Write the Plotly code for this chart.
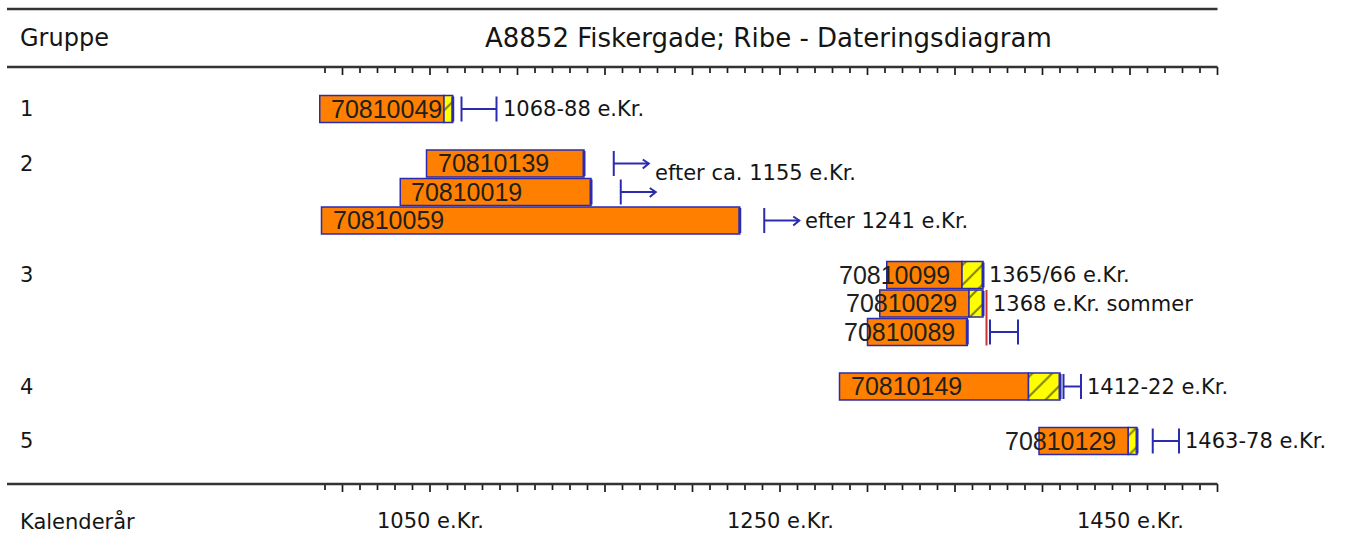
import plotly.graph_objects as go

# ---------------- data ----------------
title_text = "A8852 Fiskergade; Ribe - Dateringsdiagram"
group_header = "Gruppe"
axis_label = "Kalenderår"

sample_ids = ["70810049", "70810139", "70810019", "70810059",
              "70810099", "70810029", "70810089", "70810149", "70810129"]
sample_group = [1, 2, 2, 2, 3, 3, 3, 4, 5]
first_year = [987, 1048, 1033, 988, 1311, 1307, 1300, 1284, 1398]
sapwood_start = [1058, None, None, None, 1354, 1358, None, 1392, 1449]
last_year = [1063, 1138, 1142, 1227, 1366, 1366, 1357, 1410, 1454]

felling_kind = ["interval", "after", "after", "after", "none", "summer",
                "interval", "interval", "interval"]
felling_from = [1068, 1155, 1159, 1241, None, 1368, 1370, 1412, 1463]
felling_to = [1088, None, None, None, None, None, 1386, 1422, 1478]
felling_text = ["1068-88 e.Kr.", "efter ca. 1155 e.Kr.", "", "efter 1241 e.Kr.",
                "1365/66 e.Kr.", "1368 e.Kr. sommer", "", "1412-22 e.Kr.",
                "1463-78 e.Kr."]

tick_start, tick_end, tick_step, major_step = 990, 1500, 10, 50
tick_label_years = [1050, 1250, 1450]
tick_label_suffix = " e.Kr."

# ---------------- layout constants ----------------
W, H = 1348, 538
X_REF_YEAR, X_REF_PX, PX_PER_YEAR = 1050, 430.0, 1.75


def px2yr(px):
    return X_REF_YEAR + (px - X_REF_PX) / PX_PER_YEAR


def yr2px(yr):
    return X_REF_PX + (yr - X_REF_YEAR) * PX_PER_YEAR


def dyr(px):
    return px / PX_PER_YEAR


ROW_FIRST, ROW_PITCH, GROUP_STEP, BAR_H = 109.0, 28.5, 54.5, 27.0
ORANGE, BLUE, YELLOW, RED = "#ff8000", "#2b2bb0", "#ffff00", "#c83232"
RULE = "#333333"
TXT = "#151515"
HDR_FONT = "DejaVu Sans"
BAR_FONT = "Liberation Sans"

row_y = []
prev = None
y = ROW_FIRST
for g in sample_group:
    if prev is None:
        y = ROW_FIRST
    elif g == prev:
        y += ROW_PITCH
    else:
        y += GROUP_STEP
    row_y.append(y)
    prev = g

fig = go.Figure()

# heartwood bars
hw_end = [s if s is not None else e for s, e in zip(sapwood_start, last_year)]
fig.add_trace(go.Bar(
    orientation="h", y=row_y, base=first_year,
    x=[he - f for he, f in zip(hw_end, first_year)],
    width=BAR_H, marker=dict(color=ORANGE, line=dict(color=BLUE, width=1.5)),
    hoverinfo="skip", showlegend=False))

# sapwood bars (hatched)
sw_y, sw_base, sw_len = [], [], []
for yy, s, e in zip(row_y, sapwood_start, last_year):
    if s is not None:
        sw_y.append(yy); sw_base.append(s); sw_len.append(e - s)
fig.add_trace(go.Bar(
    orientation="h", y=sw_y, base=sw_base, x=sw_len, width=BAR_H,
    marker=dict(color=YELLOW, line=dict(color=BLUE, width=1.5),
                pattern=dict(shape="/", fgcolor="#000000", bgcolor=YELLOW,
                             size=14, solidity=0.14)),
    hoverinfo="skip", showlegend=False))

# thick end edge
ex, ey = [], []
for yy, e in zip(row_y, last_year):
    ex += [e, e, None]
    ey += [yy - BAR_H / 2 + 1, yy + BAR_H / 2 - 1, None]
fig.add_trace(go.Scatter(x=ex, y=ey, mode="lines", line=dict(color=BLUE, width=3),
                         hoverinfo="skip", showlegend=False))

annotations = []

# bar labels
TEXT_W = 112
for sid, yy, f, he in zip(sample_ids, row_y, first_year, hw_end):
    if yr2px(f) + 9 + TEXT_W <= yr2px(he) - 2:
        ax, anc = f + dyr(9), "left"
    else:
        ax, anc = he - dyr(10), "right"
    annotations.append(dict(x=ax, y=yy - 0.5, text=sid, showarrow=False, xanchor=anc,
                            yanchor="middle", font=dict(family=BAR_FONT, size=25, color="#202020")))

# felling markers
fx, fy = [], []
rx, ry = [], []
ARROW_PX = 35
VH = BAR_H / 2 - 1
for i, (k, a, b, txt, yy) in enumerate(zip(felling_kind, felling_from, felling_to,
                                           felling_text, row_y)):
    dy = 0
    if k == "interval":
        fx += [a, a, None, a, b, None, b, b, None]
        fy += [yy - VH, yy + VH, None, yy, yy, None, yy - VH, yy + VH, None]
        tx = b
    elif k == "after":
        end = a + dyr(ARROW_PX)
        fx += [a, a, None, a, end, None,
               end - dyr(6), end, end - dyr(6), None]
        fy += [yy - VH, yy + VH, None, yy, yy, None,
               yy - 4, yy, yy + 5, None]
        tx = end
        if (i + 1 < len(felling_kind) and sample_group[i + 1] == sample_group[i]
                and felling_kind[i + 1] == "after" and felling_text[i + 1] == ""):
            dy = 9
    elif k == "summer":
        bottom = yy + BAR_H / 2
        if i + 1 < len(sample_group) and sample_group[i + 1] == sample_group[i]:
            bottom = row_y[i + 1] + BAR_H / 2
        rx += [a, a, None]
        ry += [yy - BAR_H / 2, bottom, None]
        tx = a
    else:
        tx = last_year[i]
    if txt:
        annotations.append(dict(x=tx + dyr(4), y=yy + dy, text=txt, showarrow=False,
                                xanchor="left", yanchor="middle",
                                font=dict(family=HDR_FONT, size=21, color=TXT)))

fig.add_trace(go.Scatter(x=fx, y=fy, mode="lines", line=dict(color=BLUE, width=2),
                         hoverinfo="skip", showlegend=False))
fig.add_trace(go.Scatter(x=rx, y=ry, mode="lines", line=dict(color=RED, width=2),
                         hoverinfo="skip", showlegend=False))

# scale ticks (top and bottom)
TOP_RULE_Y, SCALE_TOP_Y, SCALE_BOT_Y = 9, 67, 484
tx_, ty_ = [], []
for yr in range(tick_start, tick_end + 1, tick_step):
    ln = 8 if yr % major_step == 0 else 6
    for base_y in (SCALE_TOP_Y, SCALE_BOT_Y):
        tx_ += [yr, yr, None]
        ty_ += [base_y, base_y + ln, None]
fig.add_trace(go.Scatter(x=tx_, y=ty_, mode="lines", line=dict(color="#1a1a1a", width=1.7),
                         hoverinfo="skip", showlegend=False))

shapes = []
for ry_ in (TOP_RULE_Y, SCALE_TOP_Y, SCALE_BOT_Y):
    shapes.append(dict(type="line", xref="x", yref="y", x0=px2yr(7), x1=tick_end,
                       y0=ry_, y1=ry_, line=dict(color=RULE, width=2.5)))

# headers
annotations.append(dict(x=px2yr(18), y=38, text=group_header, showarrow=False,
                        xanchor="left", yanchor="middle",
                        font=dict(family=HDR_FONT, size=24, color=TXT)))
annotations.append(dict(x=px2yr(768), y=38, text=title_text, showarrow=False,
                        xanchor="center", yanchor="middle",
                        font=dict(family=HDR_FONT, size=26, color=TXT)))
annotations.append(dict(x=px2yr(18), y=521, text=axis_label, showarrow=False,
                        xanchor="left", yanchor="middle",
                        font=dict(family=HDR_FONT, size=21, color=TXT)))
for yr in tick_label_years:
    annotations.append(dict(x=yr, y=521, text=f"{yr}{tick_label_suffix}", showarrow=False,
                            xanchor="center", yanchor="middle",
                            font=dict(family=HDR_FONT, size=21, color=TXT)))

# group labels
seen = set()
for g, yy in zip(sample_group, row_y):
    if g in seen:
        continue
    seen.add(g)
    annotations.append(dict(x=px2yr(18), y=yy, text=str(g), showarrow=False,
                            xanchor="left", yanchor="middle",
                            font=dict(family=HDR_FONT, size=21, color=TXT)))

fig.update_layout(
    width=W, height=H, margin=dict(l=0, r=0, t=0, b=0),
    paper_bgcolor="white", plot_bgcolor="white",
    barmode="overlay", showlegend=False,
    xaxis=dict(range=[px2yr(0), px2yr(W)], visible=False, fixedrange=True),
    yaxis=dict(range=[H, 0], visible=False, fixedrange=True),
    annotations=annotations, shapes=shapes,
)

fig.write_html("out.html", config={"displayModeBar": False},
               post_script="document.body.style.margin='0';")
